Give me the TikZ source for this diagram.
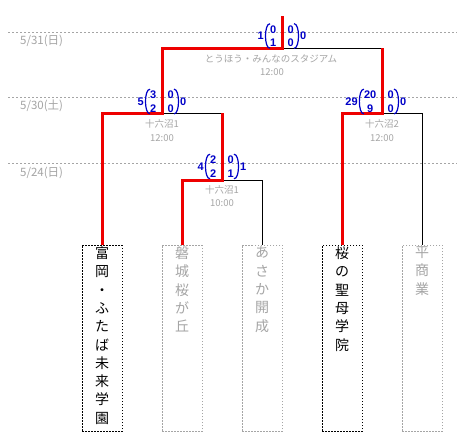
\documentclass[tikz,border=0pt]{standalone}
\usepackage{fontspec}
\setmainfont{Noto Sans CJK JP}
\newfontfamily\scfont{Liberation Sans}
\definecolor{lg}{RGB}{165,165,165}
\definecolor{scb}{RGB}{0,0,200}
\definecolor{win}{RGB}{238,0,0}
\newcommand\mscore[9]{%
  \node[sccol,anchor=east] (#1l) at (#2-3.5,#3) {#5\\#6};
  \node[sccol,anchor=west] (#1r) at (#2+3.5,#3) {#7\\#8};
  \draw[paren] ([xshift=2pt]#1l.north west) .. controls ([xshift=-4pt]#1l.north west) and ([xshift=-4pt]#1l.south west) .. ([xshift=2pt]#1l.south west);
  \draw[paren] ([xshift=-2pt]#1r.north east) .. controls ([xshift=4pt]#1r.north east) and ([xshift=4pt]#1r.south east) .. ([xshift=-2pt]#1r.south east);
  \node[scnum,anchor=east] (#1L) at ([xshift=-4pt]#1l.west) {#4};
  \node[scnum,anchor=west] (#1R) at ([xshift=4pt]#1r.east) {#9};
}
\begin{document}
\begin{tikzpicture}[x=1pt,y=-1pt,
 winline/.style={win,line width=3pt},
 plain/.style={black,line width=1pt},
 guide/.style={lg,line width=0.8pt,dash pattern=on 2pt off 2pt},
 datelab/.style={lg,font=\fontsize{11.5}{11.5}\selectfont,anchor=west,inner sep=0},
 venue/.style={lg,font=\fontsize{9.5}{9.5}\selectfont,inner sep=0},
 teambox/.style={draw,dash pattern=on 1.5pt off 1.5pt,line width=0.8pt,minimum width=40pt,minimum height=186pt,inner sep=0},
 winbox/.style={teambox,black},
 losebox/.style={teambox,lg},
 teamtext/.style={anchor=north,inner sep=0,align=center,font=\fontsize{14}{18.3}\selectfont},
 sccol/.style={scb,inner xsep=2pt,inner ysep=1.5pt,align=center,font=\scfont\bfseries\fontsize{11}{13.5}\selectfont},
 scnum/.style={scb,inner sep=0,font=\scfont\bfseries\fontsize{11}{11}\selectfont},
 paren/.style={scb,line width=1.2pt}]
\fill[white] (0,0) rectangle (475,448);
\useasboundingbox (0,0) rectangle (475,448);

% guide lines and dates
\draw[guide] (8,32.5) -- (457,32.5);
\draw[guide] (8,97.5) -- (457,97.5);
\draw[guide] (8,163) -- (457,163);
\node[datelab] (d1) at (20,40.5) {5/31(日)};
\node[datelab] (d2) at (20,106) {5/30(土)};
\node[datelab] (d3) at (20,172.5) {5/24(日)};

% team boxes
\node[winbox] (t1) at (102,338) {};
\node[losebox] (t2) at (182,338) {};
\node[losebox] (t3) at (262,338) {};
\node[winbox] (t4) at (342,338) {};
\node[losebox] (t5) at (422,338) {};
\node[teamtext] (t1n) at ([yshift=-2pt]t1.north) {富\\岡\\・\\ふ\\た\\ば\\未\\来\\学\\園};
\node[teamtext,lg] (t2n) at ([yshift=-2pt]t2.north) {磐\\城\\桜\\が\\丘};
\node[teamtext,lg] (t3n) at ([yshift=-2pt]t3.north) {あ\\さ\\か\\開\\成};
\node[teamtext] (t4n) at ([yshift=-2pt]t4.north) {桜\\の\\聖\\母\\学\\院};
\node[teamtext,lg] (t5n) at ([yshift=-2pt]t5.north) {平\\商\\業};

% junctions
\coordinate (m1) at (222,180);
\coordinate (m2L) at (102,113);
\coordinate (m2) at (162,113);
\coordinate (m2R) at (222,113);
\coordinate (m3L) at (342,113);
\coordinate (m3) at (382,113);
\coordinate (m3R) at (422,113);
\coordinate (fL) at (162,48);
\coordinate (fin) at (282,48);
\coordinate (fR) at (382,48);
\coordinate (top) at (282,16);

% black lines
\draw[plain] (t3.north) |- (m1);
\draw[plain] (m2) -- (m2R);
\draw[plain] (fin) -- (fR);
\draw[plain] (m3) -- (m3R) -- (t5.north);

% red lines
\draw[winline] (t1.north) -- (m2L) -- (m2) -- (fL) -- (fin) -- (top);
\draw[winline] (t2.north) |- (m1) -- (m2R);
\draw[winline] (t4.north) -- (m3L) -- (m3) -- (fR);

% venues
\node[venue] (v0) at (271,59) {とうほう・みんなのスタジアム};
\node[venue] (v0t) at (272,72) {12:00};
\node[venue] (v2) at (162,124) {十六沼1};
\node[venue] (v2t) at (162,138) {12:00};
\node[venue] (v3) at (382,124) {十六沼2};
\node[venue] (v3t) at (382,138) {12:00};
\node[venue] (v1) at (222,190) {十六沼1};
\node[venue] (v1t) at (222,203) {10:00};

% scores
\mscore{sf}{282}{36}{1}{0}{1}{0}{0}{0}
\mscore{sb}{162}{101.5}{5}{3}{2}{0}{0}{0}
\mscore{sc}{382}{101.5}{29}{20}{9}{0}{0}{0}
\mscore{sa}{222}{166.5}{4}{2}{2}{0}{1}{1}
\end{tikzpicture}
\end{document}
